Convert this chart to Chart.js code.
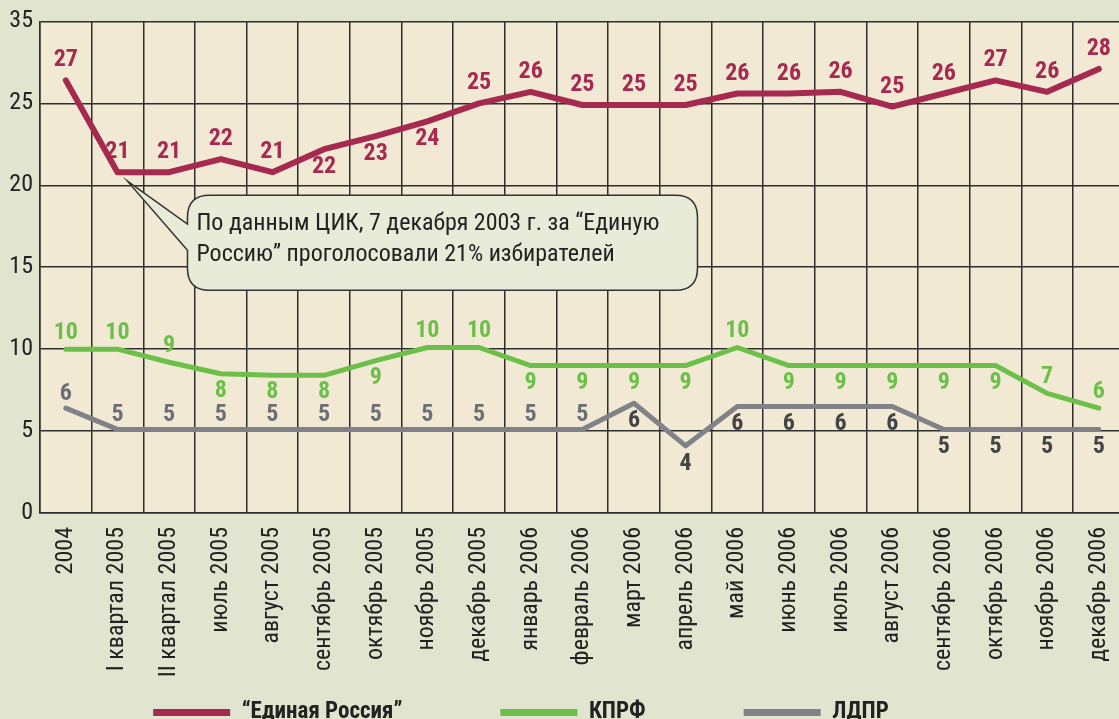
<!DOCTYPE html>
<html><head><meta charset="utf-8">
<script src="https://cdn.jsdelivr.net/npm/chart.js@4.4.1/dist/chart.umd.min.js"></script>
<style>
html,body{margin:0;padding:0;overflow:hidden;background:#e1e5cf;width:1119px;height:719px}
#wrap{position:absolute;left:0;top:0;width:1142px;height:734px}
</style></head><body>
<div id="wrap"><canvas id="c" width="1142" height="734"></canvas></div>
<script>
const categories = ['2004','I квартал 2005','II квартал 2005','июль 2005','август 2005','сентябрь 2005','октябрь 2005','ноябрь 2005','декабрь 2005','январь 2006','февраль 2006','март 2006','апрель 2006','май 2006','июнь 2006','июль 2006','август 2006','сентябрь 2006','октябрь 2006','ноябрь 2006','декабрь 2006'];

const seriesNames = ['“Единая Россия”', 'КПРФ', 'ЛДПР'];

const erValues   = [26.4, 20.8, 20.8, 21.6, 20.8, 22.2, 23.0, 23.9, 25.0, 25.7, 24.9, 24.9, 24.9, 25.6, 25.6, 25.7, 24.8, 25.6, 26.4, 25.7, 27.1];
const kprfValues = [10.0, 10.0, 9.2, 8.5, 8.4, 8.4, 9.3, 10.1, 10.1, 9.0, 9.0, 9.0, 9.0, 10.1, 9.0, 9.0, 9.0, 9.0, 9.0, 7.3, 6.4];
const ldprValues = [6.4, 5.1, 5.1, 5.1, 5.1, 5.1, 5.1, 5.1, 5.1, 5.1, 5.1, 6.7, 4.1, 6.5, 6.5, 6.5, 6.5, 5.1, 5.1, 5.1, 5.1];

const erPrinted   = [27,21,21,22,21,22,23,24,25,26,25,25,25,26,26,26,25,26,27,26,28];
const kprfPrinted = [10,10,9,8,8,8,9,10,10,9,9,9,9,10,9,9,9,9,9,7,6];
const ldprPrinted = [6,5,5,5,5,5,5,5,5,5,5,6,4,6,6,6,6,5,5,5,5];

const yTickLabels = ['0','5','10','15','20','25','35'];

const calloutLines = ['По данным ЦИК, 7 декабря 2003 г. за “Единую', 'Россию” проголосовали 21% избирателей'];

// label placement: 1 = above the line, -1 = below
const erPlace   = [1,1,1,1,1,-1,-1,-1,1,1,1,1,1,1,1,1,1,1,1,1,1];
const kprfPlace = [1,1,1,-1,-1,-1,-1,1,1,-1,-1,-1,-1,1,-1,-1,-1,-1,-1,1,1];
const ldprPlace = [1,1,1,1,1,1,1,1,1,1,1,-1,-1,-1,-1,-1,-1,-1,-1,-1,-1];

const FONT = '"Roboto Condensed", "DejaVu Sans Condensed", sans-serif';
const GRID = '#2e2e2e';

const plotBg = {
  id: 'plotBg',
  beforeDraw(chart) {
    const {ctx, chartArea: a} = chart;
    ctx.save();
    ctx.fillStyle = '#f2e9d4';
    ctx.fillRect(a.left, a.top, a.right - a.left, a.bottom - a.top);
    ctx.restore();
  },
  afterLayout(chart) {
    // let the rotated category labels run down to the legend
    chart.scales.x.bottom = chart.height;
    // legend row sits a little left of centre, as in the original
    chart.legend.left -= 42;
    chart.legend.right -= 42;
  }
};

const valueLabels = {
  id: 'valueLabels',
  afterDatasetsDraw(chart) {
    const ctx = chart.ctx;
    chart.data.datasets.forEach((ds, di) => {
      const meta = chart.getDatasetMeta(di);
      meta.data.forEach((pt, i) => {
        const up = ds.place[i] > 0;
        const off = up ? ds.offUp : ds.offDown;
        ctx.save();
        ctx.font = 'bold 24px ' + FONT;
        ctx.fillStyle = up ? ds.colUp : ds.colDown;
        ctx.textAlign = 'center';
        ctx.textBaseline = 'middle';
        ctx.fillText(String(ds.printed[i]), pt.x, pt.y + (up ? -off : off));
        ctx.restore();
      });
    });
  }
};

const callout = {
  id: 'callout',
  afterDraw(chart) {
    const ctx = chart.ctx;
    const p = chart.getDatasetMeta(0).data[1];
    const tipX = p.x + 10, tipY = p.y + 9;
    const L = tipX + 60, T = tipY + 14, W = 510, H = 95, r = 22;
    const R = L + W, B = T + H;
    ctx.save();
    ctx.beginPath();
    ctx.moveTo(L + r, T);
    ctx.lineTo(R - r, T);
    ctx.quadraticCurveTo(R, T, R, T + r);
    ctx.lineTo(R, B - r);
    ctx.quadraticCurveTo(R, B, R - r, B);
    ctx.lineTo(L + r, B);
    ctx.quadraticCurveTo(L, B, L, B - r);
    ctx.lineTo(L, T + 55);
    ctx.lineTo(tipX, tipY);
    ctx.lineTo(L, T + 29);
    ctx.lineTo(L, T + r);
    ctx.quadraticCurveTo(L, T, L + r, T);
    ctx.closePath();
    ctx.fillStyle = '#e7ebd8';
    ctx.fill();
    ctx.lineWidth = 1.5;
    ctx.strokeStyle = '#333';
    ctx.stroke();
    ctx.fillStyle = '#222';
    ctx.font = '24px ' + FONT;
    ctx.textAlign = 'left';
    ctx.textBaseline = 'middle';
    ctx.fillText(calloutLines[0], L + 9, T + 29);
    ctx.fillText(calloutLines[1], L + 9, T + 60);
    ctx.restore();
  }
};

function ds(label, data, color, width, printed, place, colUp, colDown, offUp, offDown) {
  return {
    label, data,
    borderColor: color, backgroundColor: color,
    borderWidth: width, pointRadius: 0, pointHoverRadius: 0,
    tension: 0, borderCapStyle: 'round', borderJoinStyle: 'round',
    printed, place, colUp, colDown, offUp, offDown
  };
}

new Chart(document.getElementById('c'), {
  type: 'line',
  data: {
    labels: categories,
    datasets: [
      ds(seriesNames[0], erValues, '#a6294f', 6, erPrinted, erPlace, '#a6294f', '#a6294f', 20, 18),
      ds(seriesNames[1], kprfValues, '#6cc04a', 5, kprfPrinted, kprfPlace, '#6cc04a', '#6cc04a', 16, 17),
      ds(seriesNames[2], ldprValues, '#818287', 5, ldprPrinted, ldprPlace, '#6e6f74', '#444446', 14, 18)
    ]
  },
  options: {
    responsive: false,
    animation: false,
    devicePixelRatio: 1,
    layout: { padding: { top: 19, right: 16, left: 0, bottom: 0 } },
    plugins: {
      tooltip: { enabled: false },
      legend: {
        position: 'bottom',
        align: 'center',
        labels: {
          boxWidth: 77, boxHeight: 7, padding: 98,
          useBorderRadius: true, borderRadius: 3.5,
          color: '#222',
          font: { family: FONT, size: 23, weight: 'bold' },
          generateLabels(chart) {
            return chart.data.datasets.map((d, i) => ({
              text: d.label, fillStyle: d.borderColor, strokeStyle: d.borderColor,
              lineWidth: 0, hidden: false, datasetIndex: i, fontColor: '#222'
            }));
          }
        }
      }
    },
    scales: {
      x: {
        offset: true,
        grid: { offset: true, color: GRID, lineWidth: 1.5, drawTicks: false },
        border: { color: GRID, width: 1.5 },
        ticks: {
          autoSkip: false, maxRotation: 90, minRotation: 90, padding: 14,
          color: '#222', font: { family: FONT, size: 24 }
        },
        afterFit(scale) { scale.height = 90; }
      },
      y: {
        min: 0, max: 30,
        ticks: {
          stepSize: 5, padding: 7, color: '#222',
          font: { family: FONT, size: 24 },
          callback: (v, i) => yTickLabels[i]
        },
        grid: { color: GRID, lineWidth: 1.5, drawTicks: false },
        border: { color: GRID, width: 1.5 },
        afterFit(scale) { scale.width = 40; }
      }
    }
  },
  plugins: [plotBg, valueLabels, callout]
});
</script>
</body></html>
